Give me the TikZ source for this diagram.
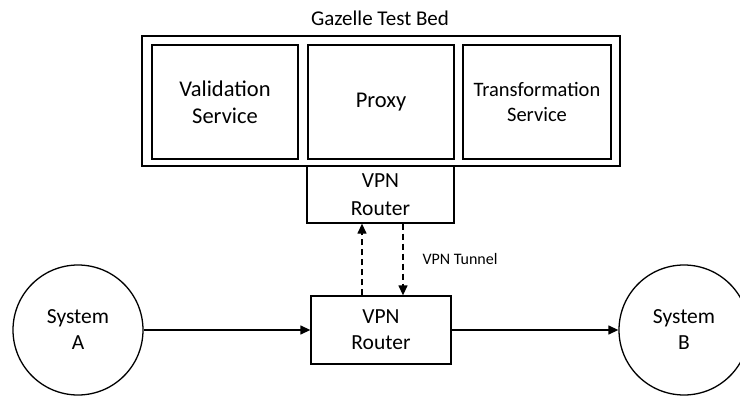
\documentclass[tikz,border=0pt]{standalone}
\usepackage{fontspec}
\setmainfont{Carlito}
\usepackage{tikz}
\usetikzlibrary{arrows.meta}

\begin{document}
\begin{tikzpicture}[x=1pt,y=-1pt,
    box/.style={draw,line width=1.3pt,inner sep=0pt,align=center,
      font=\fontsize{22.5}{27}\selectfont},
    sys/.style={draw,circle,line width=1.3pt,inner sep=0pt,minimum size=130pt,
      align=center,font=\fontsize{21.5}{26}\selectfont},
    flow/.style={line width=1.3pt,-{Triangle[length=10pt,width=9pt]}},
    tunnel/.style={flow,dash pattern=on 6pt off 4pt}]

  \clip (0,0) rectangle (740,396);
  \useasboundingbox (0,0) rectangle (740,396);

  % test bed
  \node (title) at (380,18) {\fontsize{21}{25}\selectfont Gazelle Test Bed};
  \node[box,minimum width=478pt,minimum height=130pt] (bed) at (381,101) {};
  \node[box,minimum width=146pt,minimum height=114pt] (valid) at (225,102) {Validation\\Service};
  \node[box,minimum width=146pt,minimum height=114pt] (proxy) at (381,102) {Proxy};
  \node[box,minimum width=148pt,minimum height=114pt,font=\fontsize{20.5}{25}\selectfont] (trans) at (537,102) {Transformation\\Service};
  \node[box,minimum width=147pt,minimum height=57pt,font=\fontsize{21.5}{28}\selectfont] (rtop) at (380.5,194.5) {VPN\\Router};

  % systems
  \node[box,minimum width=140pt,minimum height=68pt,font=\fontsize{21.5}{26}\selectfont] (rbot) at (381,330) {VPN\\Router};
  \node[sys] (sysa) at (78,330) {System\\A};
  \node[sys] (sysb) at (684,330) {System\\B};

  \draw[flow] (sysa.east) -- (rbot.west);
  \draw[flow] (rbot.east) -- (sysb.west);
  \draw[tunnel] ([xshift=-19pt]rbot.north) -- ([xshift=-19pt]rbot.north |- rtop.south);
  \draw[tunnel] ([xshift=22pt]rbot.north |- rtop.south) -- ([xshift=22pt]rbot.north);
  \node[font=\fontsize{16}{19}\selectfont] (tun) at (460,259) {VPN Tunnel};

\end{tikzpicture}
\end{document}
